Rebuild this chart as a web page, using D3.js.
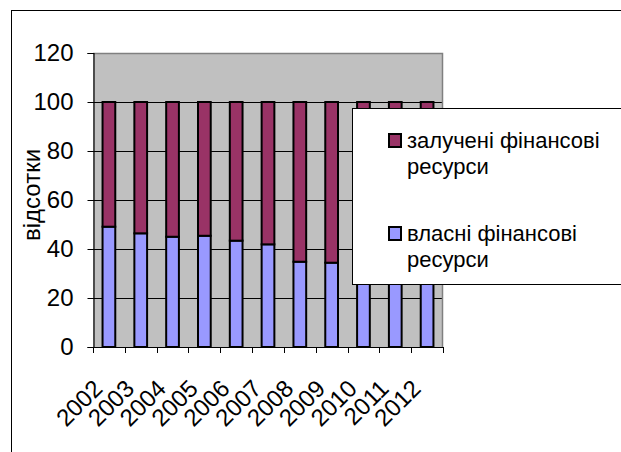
<!DOCTYPE html>
<html>
<head>
<meta charset="utf-8">
<script src="https://cdn.jsdelivr.net/npm/d3@7"></script>
<style>
  html, body { margin: 0; padding: 0; background: #fff; }
  svg { display: block; }
  text { font-family: "Liberation Sans", Arial, sans-serif; fill: #000; }
</style>
</head>
<body>
<script>
// Роки
const years = ["2002", "2003", "2004", "2005", "2006", "2007", "2008", "2009", "2010", "2011", "2012"];
// Власні фінансові ресурси, %
const ownShare = [49.1, 46.4, 45.0, 45.4, 43.4, 41.9, 34.8, 34.4, 32.5, 31.0, 30.0];
// Залучені фінансові ресурси, %
const borrowedShare = [50.9, 53.6, 55.0, 54.6, 56.6, 58.1, 65.2, 65.6, 67.5, 69.0, 70.0];
// Поділки осі значень
const yTicks = [0, 20, 40, 60, 80, 100, 120];
const seriesNames = ["залучені фінансові ресурси", "власні фінансові ресурси"];
const axisTitle = "відсотки";

const W = 621, H = 452;
const plot = { left: 93, right: 443, top: 53, bottom: 347 };
const colors = { own: "#9999FF", borrowed: "#993366", wall: "#C0C0C0" };

const svg = d3.select("body").append("svg").attr("width", W).attr("height", H);

// Рамка області діаграми
svg.append("rect")
  .attr("x", 11.5).attr("y", 10.5)
  .attr("width", W + 20).attr("height", H + 20)
  .attr("fill", "#fff").attr("stroke", "#000").attr("stroke-width", 1);

const x = d3.scaleBand().domain(years).range([plot.left, plot.right]).padding(0);
const y = d3.scaleLinear().domain([0, 120]).range([plot.bottom, plot.top]);

// Фон області побудови
svg.append("rect")
  .attr("x", plot.left).attr("y", plot.top)
  .attr("width", plot.right - plot.left).attr("height", plot.bottom - plot.top)
  .attr("fill", colors.wall);

// Лінії сітки
svg.append("g").selectAll("line")
  .data(yTicks.filter(t => t > 0 && t < 120))
  .join("line")
  .attr("x1", plot.left).attr("x2", plot.right)
  .attr("y1", d => Math.round(y(d)) + 0.5).attr("y2", d => Math.round(y(d)) + 0.5)
  .attr("stroke", "#000").attr("stroke-width", 1);

// Межа області побудови (верх і право)
svg.append("path")
  .attr("d", `M${plot.left},${plot.top + 0.5}H${plot.right - 0.5}V${plot.bottom}`)
  .attr("fill", "none").attr("stroke", "#808080").attr("stroke-width", 1.5);

// Стовпчики
const barW = x.bandwidth() * 0.4;
const stacks = years.map((yr, i) => ({ yr, own: ownShare[i], borrowed: borrowedShare[i] }));
const bars = svg.append("g");
bars.selectAll("rect.own")
  .data(stacks)
  .join("rect")
  .attr("class", "own")
  .attr("x", d => x(d.yr) + (x.bandwidth() - barW) / 2)
  .attr("width", barW)
  .attr("y", d => y(d.own))
  .attr("height", d => y(0) - y(d.own))
  .attr("fill", colors.own).attr("stroke", "#000").attr("stroke-width", 2);
bars.selectAll("rect.borrowed")
  .data(stacks)
  .join("rect")
  .attr("class", "borrowed")
  .attr("x", d => x(d.yr) + (x.bandwidth() - barW) / 2)
  .attr("width", barW)
  .attr("y", d => y(d.own + d.borrowed))
  .attr("height", d => y(d.own) - y(d.own + d.borrowed))
  .attr("fill", colors.borrowed).attr("stroke", "#000").attr("stroke-width", 2);

// Вісь значень
const yAxis = svg.append("g")
  .attr("transform", `translate(${plot.left + 0.5},0)`)
  .call(d3.axisLeft(y).tickValues(yTicks).tickSize(6).tickPadding(14).tickFormat(d3.format("d")));
yAxis.select(".domain").attr("stroke", "#000").attr("stroke-width", 1.2);
yAxis.selectAll(".tick line").attr("stroke", "#000");
yAxis.selectAll(".tick text")
  .style("font-family", '"Liberation Sans", Arial, sans-serif')
  .style("font-size", "24px").attr("fill", "#000");

// Вісь категорій
const xAxisG = svg.append("g");
xAxisG.append("line")
  .attr("x1", plot.left).attr("x2", plot.right)
  .attr("y1", plot.bottom + 0.5).attr("y2", plot.bottom + 0.5)
  .attr("stroke", "#000").attr("stroke-width", 1.2);
const bounds = years.map(d => x(d)).concat([x(years[years.length - 1]) + x.bandwidth()]);
xAxisG.selectAll("line.tick")
  .data(bounds)
  .join("line")
  .attr("class", "tick")
  .attr("x1", d => Math.round(d) + 0.5).attr("x2", d => Math.round(d) + 0.5)
  .attr("y1", plot.bottom).attr("y2", plot.bottom + 6)
  .attr("stroke", "#000");
xAxisG.selectAll("text")
  .data(years)
  .join("text")
  .attr("transform", d => `translate(${x(d) + x.bandwidth() / 2 - 5},390) rotate(-45)`)
  .attr("text-anchor", "end")
  .style("font-size", "24px")
  .text(d => d);

// Назва осі значень
svg.append("text")
  .attr("transform", "translate(40,195) rotate(-90)")
  .attr("text-anchor", "middle")
  .style("font-size", "24px")
  .text(axisTitle);

// Легенда
const legend = svg.append("g");
legend.append("rect")
  .attr("x", 352.5).attr("y", 108.5)
  .attr("width", W).attr("height", 176)
  .attr("fill", "#fff").attr("stroke", "#000").attr("stroke-width", 1);
const legendItems = [
  { name: seriesNames[0], color: colors.borrowed, top: 148 },
  { name: seriesNames[1], color: colors.own, top: 241 }
];
legendItems.forEach(item => {
  legend.append("rect")
    .attr("x", 389).attr("y", item.top - 14)
    .attr("width", 12).attr("height", 13)
    .attr("fill", item.color).attr("stroke", "#000").attr("stroke-width", 2);
  const words = item.name.split(" ");
  const t = legend.append("text")
    .attr("x", 407).attr("y", item.top)
    .style("font-size", "22px");
  t.append("tspan").attr("x", 407).text(words.slice(0, 2).join(" "));
  t.append("tspan").attr("x", 407).attr("dy", 26).text(words.slice(2).join(" "));
});
</script>
</body>
</html>
